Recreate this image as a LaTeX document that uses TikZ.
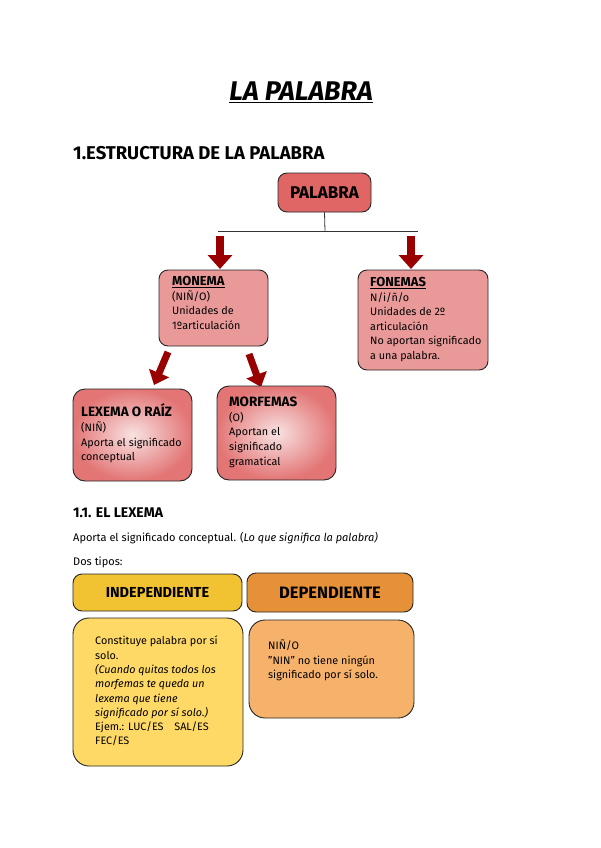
\documentclass[tikz,border=0pt]{standalone}
\usepackage{fontspec}
\setmainfont{Fira Sans}
\usetikzlibrary{arrows.meta}
\definecolor{cRed}{HTML}{E06666}
\definecolor{cPink}{HTML}{EA9999}
\definecolor{cLight}{HTML}{F8E2E2}
\definecolor{cDark}{HTML}{990000}
\definecolor{cGold}{HTML}{F1C232}
\definecolor{cOrange}{HTML}{E69138}
\definecolor{cYellow}{HTML}{FFD966}
\definecolor{cPeach}{HTML}{F6B26B}
\begin{document}
\begin{tikzpicture}[x=1pt,y=-1pt,
  box/.style={draw=black!85, line width=0.9pt, rounded corners=9pt, inner sep=0pt},
  bigbox/.style={box, rounded corners=16pt},
  grad/.style={box, rounded corners=12pt, shading=radial, inner color=cLight, outer color=cRed!70!cPink},
  txt/.style={anchor=north west, inner sep=0pt, align=left, font=\fontsize{10.8}{14.6}\selectfont},
  small/.style={anchor=north west, inner sep=0pt, align=left, font=\fontsize{10.8}{14.3}\selectfont},
  bigarrow/.style={draw=cDark, line width=8pt, -{Triangle[width=24pt,length=14pt]}},
  diagarrow/.style={draw=cDark, line width=7pt, -{Triangle[width=21pt,length=13pt]}},
  link/.style={draw=black!80, line width=0.8pt}]
\useasboundingbox (0,0) rectangle (600,848);
\fill[white] (0,0) rectangle (600,848);

% titles
\node[inner sep=0pt, font=\fontsize{27}{30}\bfseries\itshape\selectfont] (title) at (301,92) {\underline{LA PALABRA}};
\node[anchor=west, inner sep=0pt, font=\fontsize{18.5}{20}\bfseries\selectfont] (h1) at (73,153) {1.ESTRUCTURA DE LA PALABRA};

% PALABRA
\node[box, fill=cRed, minimum width=93pt, minimum height=39pt, font=\fontsize{17}{19}\bfseries\selectfont] (palabra) at (324.5,192.5) {PALABRA};
\coordinate (j) at (325,231);
\coordinate (jl) at (218,231);
\coordinate (jr) at (418,231);
\draw[link] (palabra.south) -- (j);
\draw[link] (jl) -- (jr);

% arrows from junction
\coordinate (a1s) at (220,236);
\coordinate (a1e) at (220,269);
\coordinate (a2s) at (411,236);
\coordinate (a2e) at (411,269);
\draw[bigarrow] (a1s) -- (a1e);
\draw[bigarrow] (a2s) -- (a2e);

% MONEMA & FONEMAS
\node[box, fill=cPink, minimum width=109pt, minimum height=76pt] (monema) at (213.5,308) {};
\node[txt] (monemat) at (172,276) {{\fontsize{13}{14}\bfseries\selectfont\underline{MONEMA}}\\(NIÑ/O)\\Unidades de\\1ºarticulación};
\node[box, fill=cPink, minimum width=130pt, minimum height=100pt] (fonemas) at (423,320) {};
\node[txt] (fonemast) at (370,277) {{\fontsize{13}{14}\bfseries\selectfont\underline{FONEMAS}}\\N/i/ñ/o\\Unidades de 2º\\articulación\\No aportan significado\\a una palabra.};

% diagonal arrows
\coordinate (b1s) at (168,352);
\coordinate (b1e) at (154,385);
\coordinate (b2s) at (249,354);
\coordinate (b2e) at (261,387);
\draw[diagarrow] (b1s) -- (b1e);
\draw[diagarrow] (b2s) -- (b2e);

% LEXEMA & MORFEMAS
\node[grad, minimum width=119pt, minimum height=92pt] (lexema) at (132.5,435) {};
\node[txt] (lexemat) at (81,403) {{\fontsize{13.5}{15}\bfseries\selectfont LEXEMA O RAÍZ}\\[1pt](NIÑ)\\Aporta el significado\\conceptual};
\node[grad, minimum width=119pt, minimum height=94pt] (morfemas) at (276.5,433) {};
\node[txt] (morfemast) at (229,397) {{\fontsize{13.5}{15}\bfseries\selectfont MORFEMAS}\\(O)\\Aportan el\\significado\\gramatical};

% 1.1
\node[anchor=west, inner sep=0pt, font=\fontsize{14}{16}\bfseries\selectfont] (h2) at (73,513) {1.1. EL LEXEMA};
\node[anchor=west, inner sep=0pt, font=\fontsize{11}{13}\selectfont] (p1) at (73,538) {Aporta el significado conceptual. (\textit{Lo que significa la palabra)}};
\node[anchor=west, inner sep=0pt, font=\fontsize{11}{13}\selectfont] (p2) at (73,562) {Dos tipos:};

% tipos
\node[box, fill=cGold, minimum width=169pt, minimum height=37pt, font=\fontsize{14.5}{16}\bfseries\selectfont] (indep) at (157.5,592.5) {INDEPENDIENTE};
\node[box, fill=cOrange, minimum width=166pt, minimum height=39pt, font=\fontsize{16.5}{18}\bfseries\selectfont] (dep) at (330,592.5) {DEPENDIENTE};
\node[bigbox, fill=cYellow, minimum width=170pt, minimum height=148pt] (indepb) at (158,692) {};
\node[small] (indept) at (95,636) {Constituye palabra por sí\\solo.\\\textit{(Cuando quitas todos los}\\\textit{morfemas te queda un}\\\textit{lexema que tiene}\\\textit{significado por sí solo.)}\\Ejem.: LUC/ES\quad SAL/ES\\FEC/ES};
\node[bigbox, fill=cPeach, minimum width=165pt, minimum height=98pt] (depb) at (331.5,669) {};
\node[small] (dept) at (268,640) {NIÑ/O\\"NIN" no tiene ningún\\significado por sí solo.};
\end{tikzpicture}
\end{document}
